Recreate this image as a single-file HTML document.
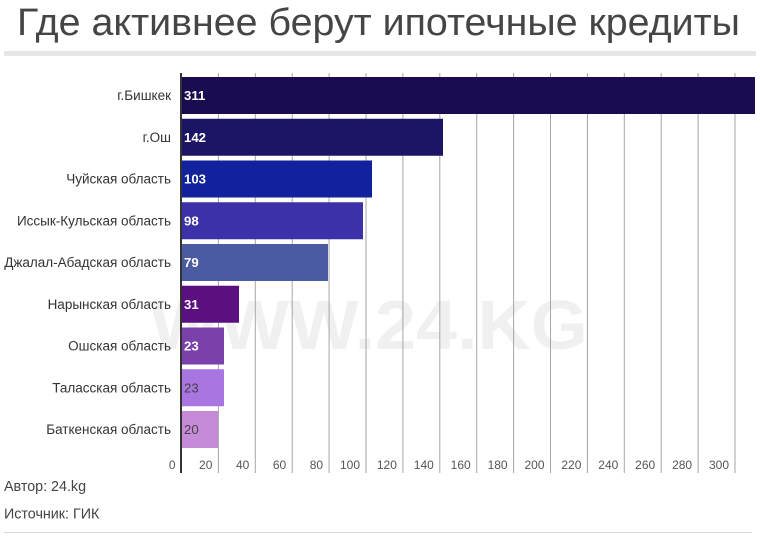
<!DOCTYPE html>
<html><head><meta charset="utf-8">
<style>
html,body{margin:0;padding:0;background:#fff;}
svg{display:block;}
text{font-family:"Liberation Sans","DejaVu Sans",sans-serif;}
</style></head>
<body>
<svg width="760" height="537" viewBox="0 0 760 537" xmlns="http://www.w3.org/2000/svg">
<rect width="760" height="537" fill="#fff"/>
<text x="17" y="35" font-size="38" fill="#454545" textLength="723" lengthAdjust="spacingAndGlyphs">Где активнее берут ипотечные кредиты</text>
<rect x="4" y="51" width="752" height="5" fill="#e6e6e6"/>

<text x="150" y="349" font-size="70" font-weight="bold" fill="#f0f0f0" textLength="438" lengthAdjust="spacingAndGlyphs">WWW.24.KG</text>

<g stroke="#a6a6a6" stroke-width="1">
<line x1="218.4" y1="73" x2="218.4" y2="473"/>
<line x1="255.3" y1="73" x2="255.3" y2="473"/>
<line x1="292.2" y1="73" x2="292.2" y2="473"/>
<line x1="329.1" y1="73" x2="329.1" y2="473"/>
<line x1="366" y1="73" x2="366" y2="473"/>
<line x1="402.9" y1="73" x2="402.9" y2="473"/>
<line x1="439.8" y1="73" x2="439.8" y2="473"/>
<line x1="476.7" y1="73" x2="476.7" y2="473"/>
<line x1="513.6" y1="73" x2="513.6" y2="473"/>
<line x1="550.5" y1="73" x2="550.5" y2="473"/>
<line x1="587.4" y1="73" x2="587.4" y2="473"/>
<line x1="624.3" y1="73" x2="624.3" y2="473"/>
<line x1="661.2" y1="73" x2="661.2" y2="473"/>
<line x1="698.1" y1="73" x2="698.1" y2="473"/>
<line x1="735" y1="73" x2="735" y2="473"/>
</g>

<g>
<rect x="182" y="77" width="573" height="37" fill="#1a0c4f"/>
<rect x="182" y="118.75" width="261" height="37" fill="#1c1464"/>
<rect x="182" y="160.5" width="190" height="37" fill="#11229c"/>
<rect x="182" y="202.25" width="181" height="37" fill="#3d31a9"/>
<rect x="182" y="244" width="146" height="37" fill="#4a5ba1"/>
<rect x="182" y="285.75" width="57" height="37" fill="#5c0f7f"/>
<rect x="182" y="327.5" width="42" height="37" fill="#7b41aa"/>
<rect x="182" y="369.25" width="42" height="37" fill="#a875e1"/>
<rect x="182" y="411" width="36" height="37" fill="#c68ad9"/>
</g>

<rect x="180" y="73" width="2" height="400" fill="#333"/>

<g font-size="13.5" fill="#333" text-anchor="end">
<text x="171" y="100">г.Бишкек</text>
<text x="171" y="142">г.Ош</text>
<text x="171" y="183.5">Чуйская область</text>
<text x="171" y="225.5">Иссык-Кульская область</text>
<text x="171" y="267">Джалал-Абадская область</text>
<text x="171" y="309">Нарынская область</text>
<text x="171" y="350.5">Ошская область</text>
<text x="171" y="392.5">Таласская область</text>
<text x="171" y="434">Баткенская область</text>
</g>

<g font-size="13.2" font-weight="bold" fill="#fff">
<text x="184" y="100">311</text>
<text x="184" y="142">142</text>
<text x="184" y="183.5">103</text>
<text x="184" y="225.5">98</text>
<text x="184" y="267">79</text>
<text x="184" y="309">31</text>
<text x="184" y="350.5">23</text>
</g>
<g font-size="13.2" fill="#444">
<text x="184" y="392.5">23</text>
<text x="184" y="434">20</text>
</g>

<g font-size="12" fill="#555" text-anchor="end">
<text x="175.5" y="469">0</text>
<text x="212.4" y="469">20</text>
<text x="249.3" y="469">40</text>
<text x="286.2" y="469">60</text>
<text x="323.1" y="469">80</text>
<text x="360" y="469">100</text>
<text x="396.9" y="469">120</text>
<text x="433.8" y="469">140</text>
<text x="470.7" y="469">160</text>
<text x="507.6" y="469">180</text>
<text x="544.5" y="469">200</text>
<text x="581.4" y="469">220</text>
<text x="618.3" y="469">240</text>
<text x="655.2" y="469">260</text>
<text x="692.1" y="469">280</text>
<text x="729" y="469">300</text>
</g>

<g font-size="14.3" fill="#444">
<text x="4" y="491">Автор: 24.kg</text>
<text x="4" y="518.5">Источник: ГИК</text>
</g>
<rect x="4" y="532" width="748" height="1" fill="#d8d8d8"/>
</svg>
</body></html>
